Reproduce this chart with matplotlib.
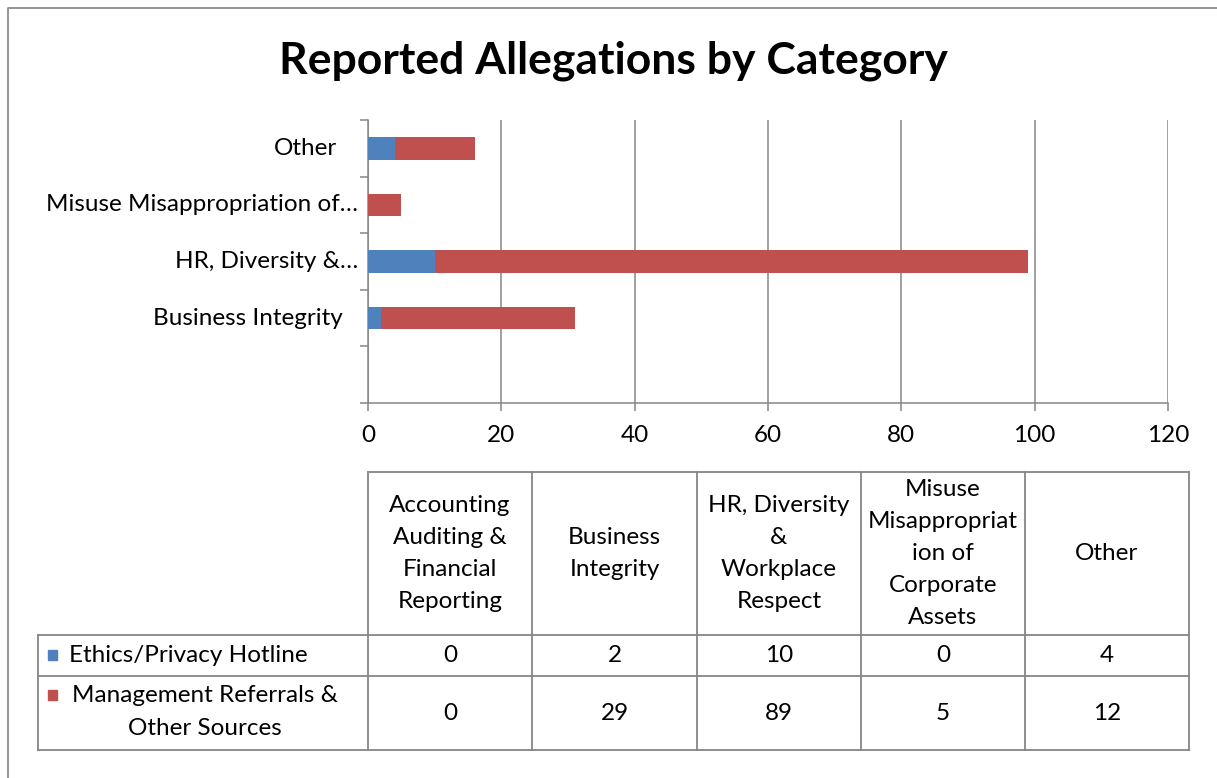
import numpy as np
import matplotlib
matplotlib.use("Agg")
import matplotlib.pyplot as plt

# ----------------------------------------------------------------------
# Data
# ----------------------------------------------------------------------
CATEGORIES = ["Accounting Auditing & Financial Reporting",
              "Business Integrity",
              "HR, Diversity & Workplace Respect",
              "Misuse Misappropriation of Corporate Assets",
              "Other"]
AXIS_LABELS = ["", "Business Integrity", "HR, Diversity &\u2026",
               "Misuse Misappropriation of\u2026", "Other"]
HEADER_LABELS = ["Accounting\nAuditing &\nFinancial\nReporting",
                 "Business\nIntegrity",
                 "HR, Diversity\n&\nWorkplace\nRespect",
                 "Misuse\nMisappropriat\nion of\nCorporate\nAssets",
                 "Other"]
SERIES_NAMES = ["Ethics/Privacy Hotline", "Management Referrals &\nOther Sources"]
HOTLINE = [0, 2, 10, 0, 4]
MGMT = [0, 29, 89, 5, 12]
XTICKS = [0, 20, 40, 60, 80, 100, 120]

BLUE = "#4F81BD"
RED = "#C0504D"
GRID = "#868686"
FONT = ["Lato", "DejaVu Sans"]
FS = 17.5

plt.rcParams["font.family"] = FONT

W, H = 1217, 778
fig = plt.figure(figsize=(W / 100, H / 100), dpi=100)

# overlay axes in pixel coords for border, title and data table
ov = fig.add_axes([0, 0, 1, 1])
ov.set_xlim(0, W)
ov.set_ylim(H, 0)
ov.axis("off")

# ----------------------------------------------------------------------
# Bar chart
# ----------------------------------------------------------------------
px_l, px_r, px_t, px_b = 368, 1168, 120, 403
ax = fig.add_axes([px_l / W, 1 - px_b / H, (px_r - px_l) / W, (px_b - px_t) / H])
ax.set_zorder(2)
ax.patch.set_alpha(0)

y = np.arange(len(CATEGORIES))
ax.barh(y, HOTLINE, height=0.4, color=BLUE, zorder=3)
ax.barh(y, MGMT, left=HOTLINE, height=0.4, color=RED, zorder=3)

ax.set_xlim(XTICKS[0], XTICKS[-1])
ax.set_ylim(-0.5, len(CATEGORIES) - 0.5)
ax.set_xticks(XTICKS)
ax.set_xticklabels([str(t) for t in XTICKS], fontsize=FS)
ax.set_yticks(np.arange(-0.5, len(CATEGORIES)))
ax.set_yticklabels([])
ax.tick_params(axis="both", colors=GRID, length=6, width=1.1, labelcolor="black")
ax.tick_params(axis="x", pad=10)
ax.grid(axis="x", color=GRID, linewidth=1.1, zorder=1)
for side in ["top", "right"]:
    ax.spines[side].set_visible(False)
for side in ["left", "bottom"]:
    ax.spines[side].set_color(GRID)
    ax.spines[side].set_linewidth(1.1)

# category labels (Excel places them unevenly)
label_pad = [0, 25, 10, 10, 31]
for i, lab in enumerate(AXIS_LABELS):
    ax.annotate(lab, xy=(0, i), xycoords=("axes fraction", "data"),
                xytext=(-label_pad[i], 0), textcoords="offset pixels",
                ha="right", va="center", fontsize=FS)

# ----------------------------------------------------------------------
# Border and title
# ----------------------------------------------------------------------
ov.plot([8, 8, W], [H, 8, 8], color="#8c8c8c", linewidth=1.3)
ov.text(613, 61, "Reported Allegations by Category", ha="center", va="center",
        fontsize=32, fontweight="bold")

# ----------------------------------------------------------------------
# Data table
# ----------------------------------------------------------------------
col_x = [368, 532, 697, 861, 1025, 1189]
row_y = [472, 635, 676, 750]
tbl_left = 38
lc = dict(color=GRID, linewidth=1.3)

ov.plot([col_x[0], col_x[-1]], [row_y[0], row_y[0]], **lc)
for ry in row_y[1:]:
    ov.plot([tbl_left, col_x[-1]], [ry, ry], **lc)
for cx in col_x:
    ov.plot([cx, cx], [row_y[0], row_y[-1]], **lc)
ov.plot([tbl_left, tbl_left], [row_y[1], row_y[-1]], **lc)

for j, lab in enumerate(HEADER_LABELS):
    cx = (col_x[j] + col_x[j + 1]) / 2
    ov.text(cx, (row_y[0] + row_y[1]) / 2, lab, ha="center", va="center",
            fontsize=FS, linespacing=1.66, multialignment="center")

for r, vals in enumerate([HOTLINE, MGMT]):
    cy = (row_y[r + 1] + row_y[r + 2]) / 2
    for j, v in enumerate(vals):
        cx = (col_x[j] + col_x[j + 1]) / 2
        ov.text(cx, cy, str(v), ha="center", va="center", fontsize=FS)

# series names with legend keys
key_y = [655, 695]
for r, color in enumerate([BLUE, RED]):
    ov.add_patch(plt.Rectangle((48, key_y[r] - 5), 9, 10, color=color))
ov.text(69, 655, SERIES_NAMES[0], ha="left", va="center", fontsize=FS)
ov.text(205, 712, SERIES_NAMES[1], ha="center", va="center", fontsize=FS,
        linespacing=1.66, multialignment="center")

plt.savefig("out.png", dpi=100)
